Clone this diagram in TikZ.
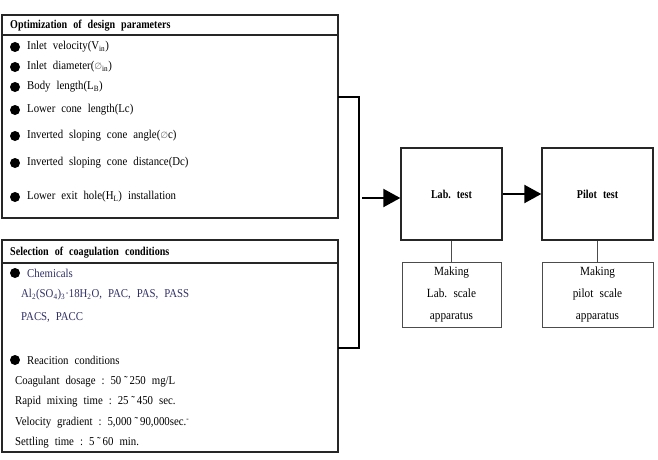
\documentclass[tikz,border=0pt]{standalone}
\usepackage{fontspec}
\setmainfont{Liberation Serif}[FakeStretch=0.9]
\newfontfamily\hdrfont{Liberation Serif}[FakeStretch=0.84]
\newfontfamily\symfnt{DejaVu Sans}
\usetikzlibrary{arrows.meta}
\definecolor{navy}{HTML}{2E2E66}
\newcommand{\dia}{{\symfnt\color{black!55}\fontsize{9}{9}\selectfont ∅}}
\newcommand{\wsp}{\hspace{0.5em}}
\tikzset{
  frame/.style={draw=black!85, line width=1.4pt},
  thinbox/.style={draw=black!70, line width=0.7pt},
  txt/.style={anchor=west, inner sep=0pt, font=\fontsize{12}{14}\selectfont},
  hdr/.style={anchor=west, inner sep=0pt, font=\hdrfont\bfseries\fontsize{12}{14}\selectfont},
  bul/.style={circle, fill=black, inner sep=0pt, minimum size=10pt},
  fat/.style={line width=2.2pt, -{Triangle[length=17pt,width=18pt]}},
  ctr/.style={align=center, font=\fontsize{12.5}{21.7}\selectfont},
  bigb/.style={frame, minimum height=92pt, font=\hdrfont\bfseries\fontsize{12}{14}\selectfont}
}
\begin{document}
\begin{tikzpicture}[x=1pt,y=-1pt]
\useasboundingbox (0,0) rectangle (658,460);
% box 1
\draw[frame] (2,15) rectangle (338,218);
\draw[frame] (2,35) -- (338,35);
\coordinate (b1r) at (338,97);
\node[hdr] (h1) at (10,25.5) {Optimization\wsp of\wsp design\wsp parameters};
\foreach \y/\t [count=\i] in {47/{Inlet\wsp velocity(V\textsubscript{in})},
  67/{Inlet\wsp diameter(\dia\textsubscript{in})},
  87/{Body\wsp length(L\textsubscript{B})},
  110/{Lower\wsp cone\wsp length(Lc)},
  136/{Inverted\wsp sloping\wsp cone\wsp angle(\dia c)},
  163/{Inverted\wsp sloping\wsp cone\wsp distance(Dc)},
  197/{Lower\wsp exit\wsp hole(H\textsubscript{L})\wsp installation}}{
  \node[bul] (ba\i) at (15,\y) {};
  \node[txt] (ta\i) at (27,\y) {\t};
}
% box 2
\draw[frame] (2,240) rectangle (338,452);
\draw[frame] (2,263) -- (338,263);
\coordinate (b2r) at (338,348);
\node[hdr] (h2) at (10,252.5) {Selection\wsp of\wsp coagulation\wsp conditions};
\node[bul] (bb1) at (15,273) {};
\node[txt, text=navy] (tb1) at (27,273) {Chemicals};
\node[txt, text=navy] (tb2) at (21,295) {Al\textsubscript{2}(SO\textsubscript{4})\textsubscript{3}·18H\textsubscript{2}O,\wsp PAC,\wsp PAS,\wsp PASS};
\node[txt, text=navy] (tb3) at (21,317) {PACS,\wsp PACC};
\node[bul] (bb2) at (15,360) {};
\node[txt] (tb4) at (27,360) {Reacition\wsp conditions};
\node[txt] (tb5) at (15,382) {Coagulant\wsp dosage\wsp :\wsp 50\ ˜\,250\wsp mg/L};
\node[txt] (tb6) at (15,402) {Rapid\wsp mixing\wsp time\wsp :\wsp 25\ ˜\,450\wsp sec.};
\node[txt] (tb7) at (15,423) {Velocity\wsp gradient\wsp :\wsp 5,000\ ˜\,90,000sec.\textsuperscript{-}};
\node[txt] (tb8) at (15,443) {Settling\wsp time\wsp :\wsp 5\ ˜\,60\wsp min.};
% bracket
\draw[line width=2pt] (b1r) -- (359,97) -- (359,348) -- (b2r);
\coordinate (br) at (362,198);
% right boxes
\node[bigb, minimum width=101pt] (lab) at (451.5,194) {Lab.\wsp test};
\node[bigb, minimum width=111pt] (pilot) at (597.5,194) {Pilot\wsp test};
\draw[fat] (br) -- (br -| lab.west);
\draw[fat] (lab.east) -- (pilot.west);
\node[thinbox, minimum width=99pt, minimum height=65pt, ctr] (mlab) at (451.5,294.5) {Making\\Lab.\wsp scale\\apparatus};
\node[thinbox, minimum width=111pt, minimum height=65pt, ctr] (mpil) at (597.5,294.5) {Making\\pilot\wsp scale\\apparatus};
\draw[thinbox] (lab.south) -- (mlab.north);
\draw[thinbox] (pilot.south) -- (mpil.north);
\end{tikzpicture}
\end{document}
